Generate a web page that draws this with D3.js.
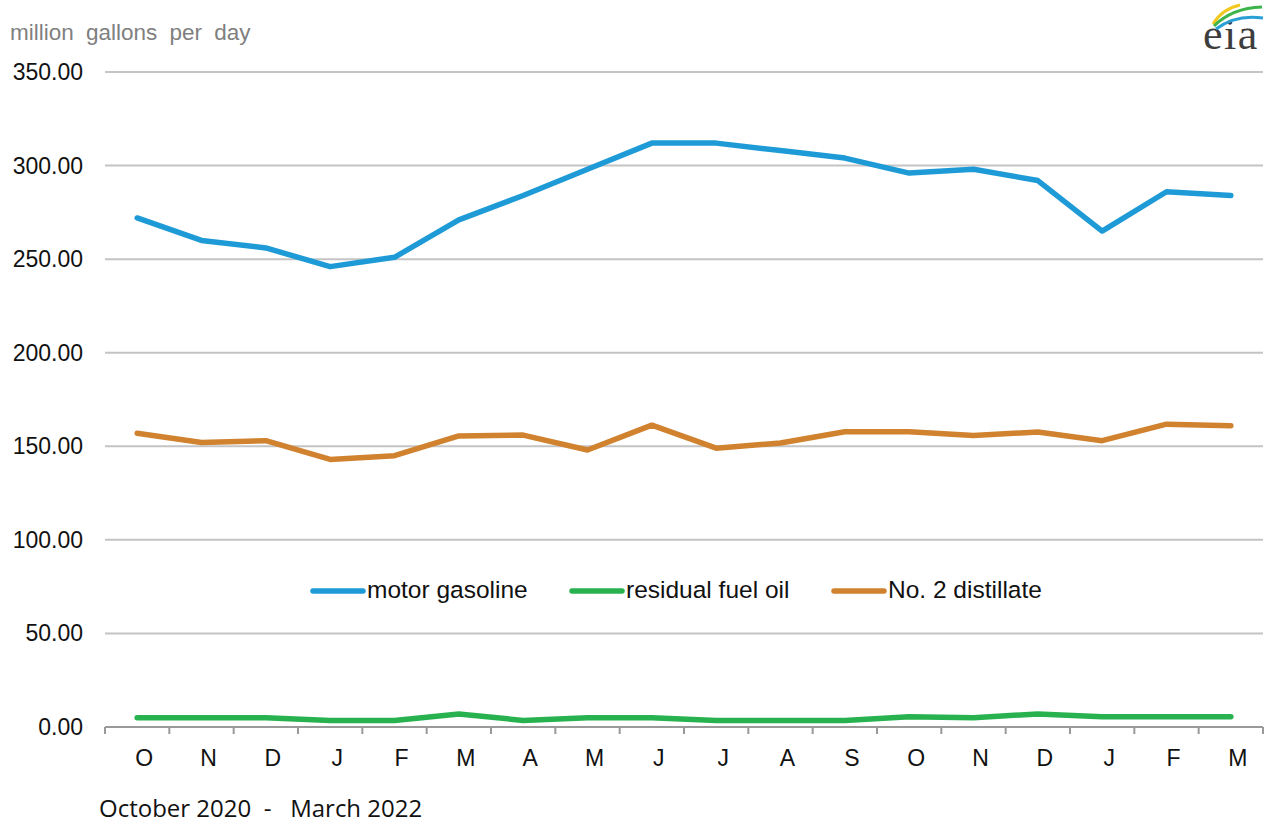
<!DOCTYPE html>
<html><head><meta charset="utf-8">
<script src="https://cdn.jsdelivr.net/npm/d3@7"></script>
<style>body{margin:0;background:#fff}svg{display:block}</style>
</head><body><div id="chart"></div>
<script>
const months = ["O","N","D","J","F","M","A","M","J","J","A","S","O","N","D","J","F","M"];
const motorGasoline = [272,260,256,246,251,271,284,298,312,312,308,304,296,298,292,265,286,284];
const residualFuelOil = [5,5,5,3.5,3.5,7,3.5,5,5,3.5,3.5,3.5,5.5,5,7,5.5,5.5,5.5];
const no2Distillate = [157,152,153,143,145,155.5,156,148,161.3,149,151.8,157.8,157.8,155.8,157.6,153,161.8,161];
const yTicks = [0,50,100,150,200,250,300,350];
const seriesNames = ["motor gasoline","residual fuel oil","No. 2 distillate"];
const seriesColors = ["#1e9bd7","#27b24f","#d0822f"];
const seriesData = [motorGasoline, residualFuelOil, no2Distillate];

const W = 1267, H = 824;
const FONT = "Liberation Sans, Arial, sans-serif";
const svg = d3.select("#chart").append("svg").attr("width", W).attr("height", H);
const x = d3.scaleBand().domain(d3.range(months.length)).range([105, 1263]);
const y = d3.scaleLinear().domain([0, 350]).range([727, 72]);

// gridlines
svg.append("g").selectAll("line").data(yTicks.filter(d => d > 0)).join("line")
  .attr("x1", 105).attr("x2", 1263).attr("y1", d => y(d)).attr("y2", d => y(d))
  .attr("stroke", "#c4c4c4").attr("stroke-width", 2);

// y labels
svg.append("g").selectAll("text").data(yTicks).join("text")
  .attr("x", 83).attr("y", d => y(d) + 8).attr("text-anchor", "end")
  .attr("font-family", FONT).attr("font-size", 23).attr("fill", "#111")
  .text(d => d3.format(".2f")(d));

// x axis
const xa = svg.append("g");
xa.append("line").attr("x1", 105).attr("x2", 1263).attr("y1", 727).attr("y2", 727)
  .attr("stroke", "#9a9a9a").attr("stroke-width", 2);
const bounds = d3.range(months.length + 1).map(i => i < months.length ? x(i) : x.range()[1]);
xa.selectAll("line.t").data(bounds).join("line").attr("class", "t")
  .attr("x1", d => d).attr("x2", d => d).attr("y1", 727).attr("y2", 734)
  .attr("stroke", "#9a9a9a").attr("stroke-width", 2);
xa.selectAll("text").data(months).join("text")
  .attr("x", (d, i) => x(i) + x.bandwidth() / 2 + 7).attr("y", 766).attr("text-anchor", "middle")
  .attr("font-family", FONT).attr("font-size", 23).attr("fill", "#111")
  .text(d => d);

// lines
const line = d3.line().x((d, i) => x(i) + x.bandwidth() / 2).y(d => y(d));
seriesData.forEach((s, k) => {
  svg.append("path").datum(s).attr("d", line).attr("fill", "none")
    .attr("stroke", seriesColors[k]).attr("stroke-width", 5.5)
    .attr("stroke-linejoin", "round").attr("stroke-linecap", "round");
});

// legend
const legX = [313, 572, 834];
const lg = svg.append("g");
seriesNames.forEach((n, k) => {
  lg.append("line").attr("x1", legX[k]).attr("x2", legX[k] + 50).attr("y1", 591).attr("y2", 591)
    .attr("stroke", seriesColors[k]).attr("stroke-width", 5.5).attr("stroke-linecap", "round");
  lg.append("text").attr("x", legX[k] + 54).attr("y", 598)
    .attr("font-family", FONT).attr("font-size", 24.5).attr("fill", "#111")
    .text(n);
});

// titles
svg.append("text").attr("x", 10).attr("y", 40).attr("font-family", FONT)
  .attr("font-size", 22.5).attr("word-spacing", 6).attr("fill", "#7f7f7f").text("million gallons per day");
svg.append("text").attr("x", 99).attr("y", 817).attr("font-family", "Open Sans, sans-serif")
  .attr("font-size", 24).attr("fill", "#111").attr("xml:space", "preserve").text("October 2020  -   March 2022");

// eia logo
const logo = svg.append("g");
logo.append("text").attr("x", 1203).attr("y", 49).attr("font-family", "Liberation Serif, serif")
  .attr("font-size", 44).attr("letter-spacing", 1.5).attr("fill", "#3d3d3d").text("eia");
const arcs = [["#f2c81e", "M1213,24 Q1222,9 1240,5"], ["#3cb44a", "M1214,26 Q1232,8 1262,7"], ["#2a9fd6", "M1216,29 Q1236,14 1263,18"]];
arcs.forEach(a => logo.append("path").attr("d", a[1]).attr("fill", "none").attr("stroke", a[0]).attr("stroke-width", 3));
</script></body></html>
